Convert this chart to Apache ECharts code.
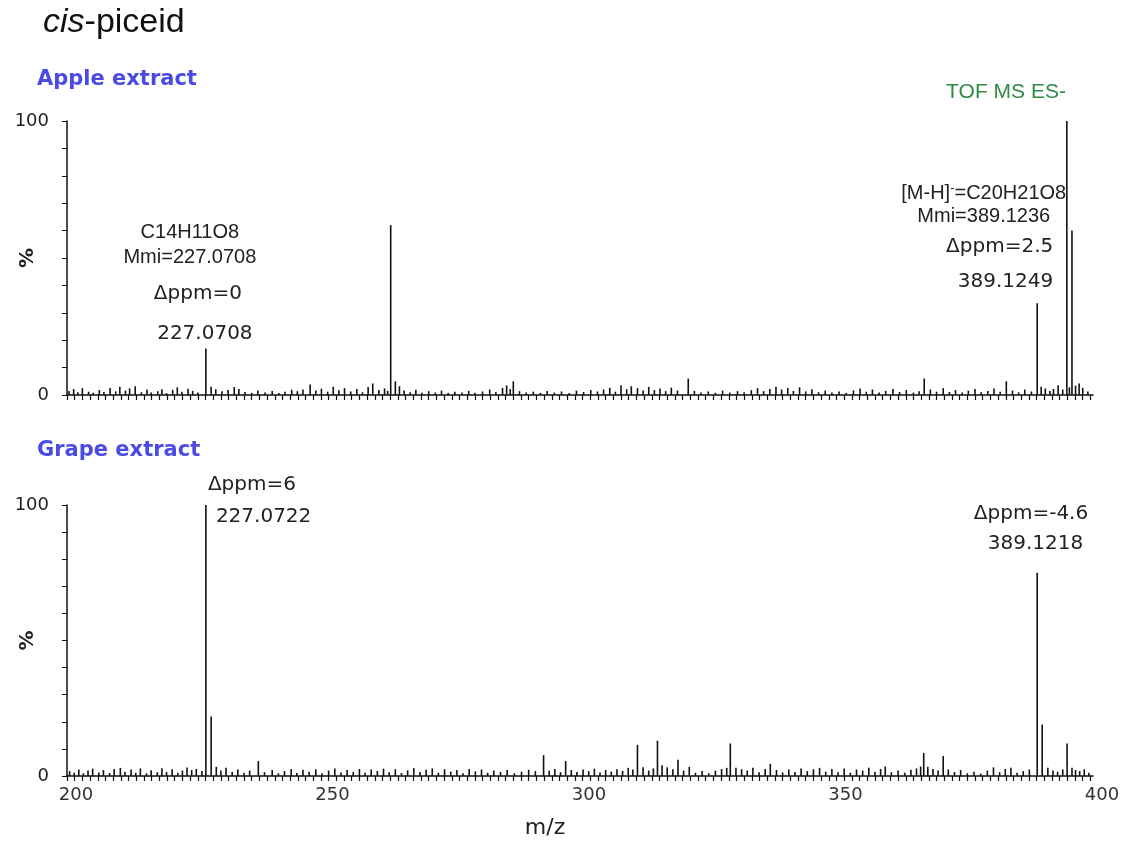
<!DOCTYPE html>
<html>
<head>
<meta charset="utf-8">
<script src="https://cdn.jsdelivr.net/npm/echarts@6/dist/echarts.min.js"></script>
<style>
  html, body { margin: 0; padding: 0; background: #fff; }
  #chart { width: 1127px; height: 844px; }
</style>
</head>
<body>
<div id="chart"></div>
<script>
// ---- data -------------------------------------------------------------
const xTickLabels = [200, 250, 300, 350, 400];
const yTickLabels = [0, 100];

// Main ions, [m/z, relative intensity %]
const applePeaks = [[227.0708, 17], [263.1, 62], [389.1249, 33.5], [394.9, 100], [395.9, 60]];
const grapePeaks = [[227.0722, 100], [228.1, 22], [389.1218, 75], [390.1, 19], [394.95, 12]];

// Baseline ions, [m/z, relative intensity %]
const appleNoise = [
  [200.4,1.5],[201.3,2.2],[202.1,1.0],[203.0,2.5],[204.2,1.2],[205.1,0.8],[206.3,1.8],[207.2,1.1],[208.4,2.6],[209.5,1.3],
  [210.3,3.0],[211.4,1.6],[212.2,2.4],[213.3,3.2],[214.5,1.0],[215.6,2.0],[216.4,0.9],[217.7,1.4],[218.5,2.1],[219.4,0.7],
  [220.6,1.9],[221.5,2.8],[222.4,1.2],[223.6,2.3],[224.5,1.5],[225.5,0.9],[228.1,3.0],[229.0,2.1],[230.2,1.4],[231.4,1.8],
  [232.6,2.9],[233.5,2.2],[234.7,1.1],[236.0,0.8],[237.2,1.6],[238.6,0.9],[240.0,1.5],[241.3,0.7],[242.5,1.2],[243.8,1.9],
  [244.9,1.4],[246.0,2.0],[247.4,3.8],[248.5,1.6],[249.6,2.3],[250.8,1.2],[251.9,3.0],[253.0,1.7],[254.1,2.5],[255.3,1.3],
  [256.5,2.2],[257.6,1.0],[258.7,2.9],[259.6,4.2],[260.8,1.8],[261.9,2.4],[262.5,1.5],[264.0,5.0],[264.8,3.2],[265.7,1.6],
  [266.9,1.0],[268.0,1.9],[269.2,0.8],[270.5,1.4],[271.8,0.9],[273.0,1.6],[274.3,0.7],[275.6,1.2],[277.0,0.9],[278.3,1.5],
  [279.5,0.8],[281.0,1.3],[282.4,2.0],[283.6,1.1],[284.9,2.6],[285.7,3.5],[286.4,2.2],[287.0,5.0],[288.2,1.4],[289.5,0.9],
  [290.9,1.2],[292.3,0.8],[293.6,1.5],[295.0,0.9],[296.4,1.3],[297.9,0.7],[299.3,1.6],[300.7,1.1],[302.1,1.8],[303.4,1.3],
  [304.6,2.0],[305.8,2.6],[306.9,1.2],[308.0,3.6],[309.1,2.1],[310.0,3.2],[311.2,2.5],[312.3,1.6],[313.4,3.0],[314.5,1.8],
  [315.6,2.4],[316.7,1.4],[317.8,2.7],[319.0,1.6],[321.1,6.0],[322.3,1.5],[323.6,0.9],[325.0,1.3],[326.4,0.8],[327.8,1.6],
  [329.2,0.9],[330.7,1.4],[332.0,1.0],[333.4,1.8],[334.6,2.5],[335.8,1.4],[337.0,2.2],[338.2,3.0],[339.3,2.0],[340.5,2.6],
  [341.6,1.5],[342.8,2.8],[344.0,1.3],[345.2,2.1],[346.5,1.0],[347.8,1.6],[349.1,0.9],[350.5,1.3],[351.9,0.8],[353.3,1.7],
  [354.6,2.4],[355.8,1.2],[357.0,2.0],[358.3,0.9],[359.6,1.5],[361.0,2.2],[362.3,1.1],[363.6,1.8],[365.0,0.9],[366.1,1.4],
  [367.1,6.0],[368.3,2.0],[369.5,1.2],[370.8,2.5],[372.0,1.1],[373.2,1.8],[374.5,0.9],[375.7,1.6],[377.0,2.2],[378.2,1.0],
  [379.5,1.5],[380.7,2.4],[381.9,1.2],[383.1,5.0],[384.3,1.6],[385.5,1.0],[386.7,2.0],[388.0,1.3],[389.9,3.0],[390.7,2.4],
  [391.6,1.5],[392.3,2.2],[393.2,3.6],[394.1,2.0],[395.4,2.8],[396.6,3.4],[397.3,4.2],[398.0,2.6],[399.0,1.3]
];
const grapeNoise = [
  [200.5,1.8],[201.4,1.2],[202.3,2.4],[203.2,1.0],[204.1,2.0],[205.0,2.7],[206.2,1.3],[207.1,2.2],[208.3,1.1],[209.2,2.6],
  [210.4,3.0],[211.3,1.6],[212.5,2.4],[213.4,1.2],[214.3,2.8],[215.5,1.0],[216.4,2.1],[217.6,1.4],[218.5,2.9],[219.4,1.5],
  [220.5,2.5],[221.6,1.2],[222.5,2.0],[223.4,3.1],[224.3,2.2],[225.2,2.6],[226.3,1.8],[229.1,3.4],[230.0,2.0],[231.0,3.0],
  [232.2,1.5],[233.3,2.4],[234.5,1.2],[235.6,2.0],[237.3,5.5],[238.5,1.4],[240.0,2.2],[241.2,1.0],[242.4,1.8],[243.7,2.6],
  [244.8,1.1],[246.0,2.3],[247.2,1.6],[248.5,2.5],[249.7,1.0],[251.0,2.0],[252.2,2.8],[253.4,1.3],[254.6,2.2],[255.8,1.5],
  [257.0,2.6],[258.1,1.2],[259.3,2.4],[260.5,1.8],[261.7,2.7],[262.8,1.4],[264.0,2.5],[265.2,1.1],[266.4,2.1],[267.6,2.9],
  [268.8,1.5],[270.0,2.3],[271.2,2.8],[272.4,1.2],[273.6,2.5],[274.8,1.6],[276.0,2.2],[277.2,1.0],[278.4,2.6],[279.6,1.7],
  [280.8,2.4],[282.0,1.2],[283.2,2.0],[284.5,1.5],[285.8,2.2],[287.2,1.0],[288.6,1.6],[290.0,2.3],[291.3,1.8],[292.9,7.7],
  [294.0,2.0],[295.1,2.6],[296.2,1.4],[297.2,5.5],[298.3,2.2],[299.4,1.5],[300.6,2.4],[301.7,1.8],[302.8,2.7],[303.9,1.3],
  [305.0,2.2],[306.1,1.6],[307.2,2.5],[308.3,1.9],[309.4,3.0],[310.3,2.4],[311.2,11.5],[312.3,3.2],[313.4,2.0],[314.3,2.8],
  [315.1,13.0],[316.0,4.0],[317.0,3.2],[318.1,2.5],[319.1,6.0],[320.2,2.0],[321.3,3.4],[322.5,1.2],[323.8,1.8],[325.1,1.0],
  [326.4,2.0],[327.6,2.6],[328.6,3.0],[329.3,12.0],[330.4,3.0],[331.5,2.5],[332.6,2.0],[333.7,3.0],[334.9,1.4],[336.1,2.6],
  [337.1,4.5],[338.3,2.2],[339.5,1.3],[340.7,2.4],[341.9,1.5],[343.1,2.8],[344.3,1.8],[345.5,2.5],[346.7,3.0],[347.9,1.6],
  [349.1,2.6],[350.3,1.4],[351.5,2.8],[352.7,1.2],[353.9,2.4],[355.1,2.0],[356.3,3.0],[357.5,1.6],[358.6,2.6],[359.5,3.5],
  [360.7,1.4],[362.0,2.0],[363.3,1.2],[364.5,2.3],[365.6,2.8],[366.4,3.5],[367.0,8.5],[367.8,3.4],[368.8,2.6],[369.8,2.0],
  [370.8,7.4],[371.8,2.4],[373.0,1.5],[374.2,2.2],[375.5,1.0],[376.8,1.6],[378.1,0.9],[379.4,2.0],[380.6,3.2],[381.8,1.4],
  [382.9,2.6],[384.0,3.0],[385.2,1.2],[386.4,1.8],[387.6,2.4],[391.2,3.0],[392.2,2.0],[393.1,1.6],[394.1,2.4],[395.9,3.0],
  [396.6,2.2],[397.4,1.8],[398.3,2.5],[399.2,1.2]
];

// Peak annotations
const appleLowNote  = ['C14H11O8', 'Mmi=227.0708', 'Δppm=0', '227.0708'];
const appleHighNote = ['[M-H]', '-', '=C20H21O8', 'Mmi=389.1236', 'Δppm=2.5', '389.1249'];
const grapeLowNote  = ['Δppm=6', '227.0722'];
const grapeHighNote = ['Δppm=-4.6', '389.1218'];
const panelTitles = ['Apple extract', 'Grape extract'];
const scanMode = 'TOF MS ES-';

// ---- chart ------------------------------------------------------------
const SANS = '"Liberation Sans", Arial, sans-serif';
const VERD = '"DejaVu Sans", Verdana, sans-serif';
const INK = '#111';

// minor ticks along m/z
const mzTicks = [];
for (let v = 200; v <= 400; v += 1.5) mzTicks.push(v);

function stick(params, api) {
  const x = api.value(0), y = api.value(1);
  const p0 = api.coord([x, 0]);
  const p1 = api.coord([x, y]);
  return {
    type: 'line',
    shape: { x1: p0[0], y1: p0[1], x2: p1[0], y2: p1[1] },
    style: { stroke: INK, lineWidth: 1.6 }
  };
}

function xAxisCfg(grid, showLabels) {
  return {
    gridIndex: grid, type: 'value', min: 200, max: 400,
    axisLine: { onZero: false, lineStyle: { color: INK, width: 1.5 } },
    axisTick: { show: true, customValues: mzTicks, length: 5, lineStyle: { color: INK, width: 1.2 } },
    axisLabel: showLabels ? {
      customValues: xTickLabels, color: '#333', fontFamily: VERD, fontSize: 18,
      margin: 10, padding: [0, 0, 0, 18]
    } : { show: false },
    splitLine: { show: false },
    name: showLabels ? 'm/z' : '',
    nameLocation: 'middle', nameGap: 41, nameMoveOverlap: false,
    nameTextStyle: { fontFamily: VERD, fontSize: 22, color: '#222', padding: [0, 70, 0, 0] }
  };
}

function yAxisCfg(grid) {
  return {
    gridIndex: grid, type: 'value', min: 0, max: 100, interval: 10,
    axisLine: { show: true, lineStyle: { color: INK, width: 1.5 } },
    axisTick: { show: true, length: 5, lineStyle: { color: INK, width: 1 } },
    axisLabel: { customValues: yTickLabels, color: '#222', fontFamily: VERD, fontSize: 18, margin: 18 },
    splitLine: { show: false },
    name: '%', nameLocation: 'middle', nameGap: 29, nameRotate: 90, nameMoveOverlap: false,
    nameTextStyle: { fontFamily: VERD, fontWeight: 'bold', fontSize: 20, color: '#222' }
  };
}

const chart = echarts.init(document.getElementById('chart'), null, { renderer: 'canvas' });

chart.setOption({
  backgroundColor: '#fff',
  animation: false,
  title: {
    left: 38, top: 1,
    text: '{i|cis}{n|-piceid}',
    textStyle: {
      fontWeight: 'normal',
      rich: {
        i: { fontFamily: SANS, fontStyle: 'italic', fontWeight: 'normal', fontSize: 34, color: '#111' },
        n: { fontFamily: SANS, fontWeight: 'normal', fontSize: 34, color: '#111' }
      }
    }
  },
  grid: [
    { left: 67, right: 34, top: 121, height: 274, containLabel: false, outerBoundsMode: 'none' },
    { left: 67, right: 34, top: 505, height: 271, containLabel: false, outerBoundsMode: 'none' }
  ],
  xAxis: [xAxisCfg(0, false), xAxisCfg(1, true)],
  yAxis: [yAxisCfg(0), yAxisCfg(1)],
  series: [
    { type: 'custom', xAxisIndex: 0, yAxisIndex: 0, renderItem: stick, clip: false,
      encode: { x: 0, y: 1 }, data: appleNoise.concat(applePeaks) },
    { type: 'custom', xAxisIndex: 1, yAxisIndex: 1, renderItem: stick, clip: false,
      encode: { x: 0, y: 1 }, data: grapeNoise.concat(grapePeaks) }
  ]
});

// ---- text annotations, anchored to the annotated peaks ----------------
function at(grid, pt) {
  return chart.convertToPixel({ xAxisIndex: grid, yAxisIndex: grid }, pt);
}
function txt(x, y, text, font, size, align, extra) {
  return {
    type: 'text', x: x, y: y,
    style: Object.assign({ text: text, fontFamily: font, fontSize: size, fill: '#222',
             align: align, verticalAlign: 'middle' }, extra || {})
  };
}

const aLow = at(0, applePeaks[0]);
const aHigh = at(0, applePeaks[2]);
const gLow = at(1, grapePeaks[0]);
const gHigh = at(1, grapePeaks[2]);

const HEAD = { fill: '#4a4ae4', fontWeight: 'bold' };

chart.setOption({ graphic: [
  txt(37, 80, panelTitles[0], VERD, 21, 'left', HEAD),
  txt(37, 451, panelTitles[1], VERD, 21, 'left', HEAD),
  txt(1006, 92, scanMode, SANS, 21, 'center', { fill: '#2e8a45' }),

  txt(aLow[0] - 16, aLow[1] - 116, appleLowNote[0], SANS, 20, 'center'),
  txt(aLow[0] - 16, aLow[1] - 91, appleLowNote[1], SANS, 20, 'center'),
  txt(aLow[0] - 8, aLow[1] - 55, appleLowNote[2], VERD, 20, 'center'),
  txt(aLow[0] - 1, aLow[1] - 15, appleLowNote[3], VERD, 20, 'center'),

  {
    type: 'text', x: aHigh[0] + 29, y: aHigh[1] - 110,
    style: {
      text: '{a|' + appleHighNote[0] + '}{s|' + appleHighNote[1] + '}{a|' + appleHighNote[2] + '}',
      align: 'right', verticalAlign: 'middle',
      rich: {
        a: { fontFamily: SANS, fontSize: 20, fill: '#222' },
        s: { fontFamily: SANS, fontSize: 13, fill: '#222', padding: [0, 0, 10, 0] }
      }
    }
  },
  txt(aHigh[0] + 13, aHigh[1] - 87, appleHighNote[3], SANS, 20, 'right'),
  txt(aHigh[0] + 16, aHigh[1] - 56, appleHighNote[4], VERD, 20, 'right'),
  txt(aHigh[0] + 16, aHigh[1] - 21, appleHighNote[5], VERD, 20, 'right'),

  txt(gLow[0] + 2, gLow[1] - 20, grapeLowNote[0], VERD, 20, 'left'),
  txt(gLow[0] + 10, gLow[1] + 12, grapeLowNote[1], VERD, 20, 'left'),

  txt(gHigh[0] + 51, gHigh[1] - 59, grapeHighNote[0], VERD, 20, 'right'),
  txt(gHigh[0] + 46, gHigh[1] - 29, grapeHighNote[1], VERD, 20, 'right')
] });
</script>
</body>
</html>
